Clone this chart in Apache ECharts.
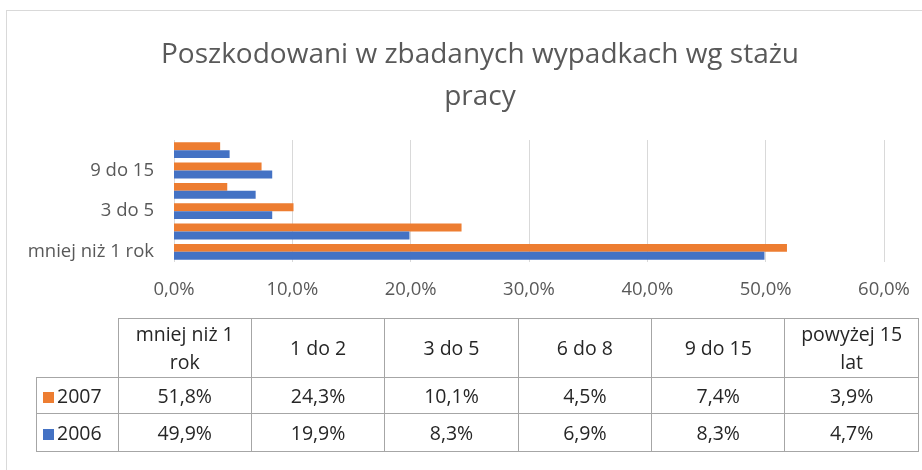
<!DOCTYPE html>
<html>
<head>
<meta charset="utf-8">
<script src="https://cdn.jsdelivr.net/npm/echarts@6/dist/echarts.min.js"></script>
<style>
  html, body { margin: 0; padding: 0; background: #fff; }
  #frame { position: absolute; left: 6px; top: 10px; width: 940px; height: 480px; border: 1px solid #d9d9d9; }
  #chart { position: absolute; left: 0; top: 0; width: 922px; height: 470px; }
  #tbl { position: absolute; left: 36px; top: 318px; border-collapse: collapse; font-family: 'Open Sans', sans-serif; font-size: 19.5px; color: #262626; }
  #tbl td { border: 1px solid #a6a6a6; text-align: center; padding: 0; line-height: 28px; }
  #tbl td.lg { text-align: left; padding-left: 6px; white-space: nowrap; }
  #tbl .sq { display: inline-block; width: 11px; height: 11px; margin-right: 3px; }
</style>
</head>
<body>
<div id="frame"></div>
<div id="chart"></div>
<table id="tbl"></table>
<script>
// kategorie (od dołu wykresu)
const categories = ['mniej niż 1 rok', '1 do 2', '3 do 5', '6 do 8', '9 do 15', 'powyżej 15 lat']
const tableHeads = ['mniej niż 1<br>rok', '1 do 2', '3 do 5', '6 do 8', '9 do 15', 'powyżej 15<br>lat']
const v2007 = [51.8, 24.3, 10.1, 4.5, 7.4, 3.9]
const v2006 = [49.9, 19.9, 8.3, 6.9, 8.3, 4.7]
const xTicks = [0, 10, 20, 30, 40, 50, 60]

const colors = { '2007': '#ED7D31', '2006': '#4472C4' }

function pct(v) {
  return v.toFixed(1).replace('.', ',') + '%'
}

const chart = echarts.init(document.getElementById('chart'))
chart.setOption({
  animation: false,
  title: {
    text: 'Poszkodowani w zbadanych wypadkach wg stażu\npracy',
    left: 475,
    textAlign: 'center',
    top: 29,
    textStyle: {
      color: '#595959',
      fontFamily: 'Open Sans',
      fontWeight: 'normal',
      fontSize: 28,
      lineHeight: 42
    }
  },
  grid: { left: 174, right: 38, top: 140, bottom: 208 },
  xAxis: {
    type: 'value',
    min: xTicks[0],
    max: xTicks[xTicks.length - 1],
    interval: 10,
    axisLine: { show: false },
    axisTick: { show: false },
    splitLine: { lineStyle: { color: '#d9d9d9', width: 1 } },
    axisLabel: {
      color: '#595959',
      fontFamily: 'Open Sans',
      fontSize: 18.5,
      margin: 18,
      formatter: pct
    }
  },
  yAxis: {
    type: 'category',
    data: categories,
    axisLine: { show: false },
    axisTick: { show: false },
    axisLabel: {
      interval: 1,
      color: '#595959',
      fontFamily: 'Open Sans',
      fontSize: 18.5,
      margin: 20
    }
  },
  series: [
    {
      name: '2007',
      type: 'bar',
      data: v2007,
      barGap: '0%',
      barCategoryGap: '22%',
      itemStyle: { color: colors['2007'] }
    },
    {
      name: '2006',
      type: 'bar',
      data: v2006,
      barGap: '0%',
      barCategoryGap: '22%',
      itemStyle: { color: colors['2006'] }
    }
  ]
})

// tabela danych pod wykresem
const tbl = document.getElementById('tbl')
const colW = 132.4
let html = '<tr style="height:59px"><td style="border-top:none;border-left:none;width:81px"></td>'
tableHeads.forEach(h => { html += '<td style="width:' + colW + 'px">' + h + '</td>' })
html += '</tr>'
;[['2007', v2007, 36], ['2006', v2006, 38]].forEach(([name, vals, h]) => {
  html += '<tr style="height:' + h + 'px"><td class="lg"><span class="sq" style="background:' + colors[name] + '"></span>' + name + '</td>'
  vals.forEach(v => { html += '<td>' + pct(v) + '</td>' })
  html += '</tr>'
})
tbl.innerHTML = html
</script>
</body>
</html>
